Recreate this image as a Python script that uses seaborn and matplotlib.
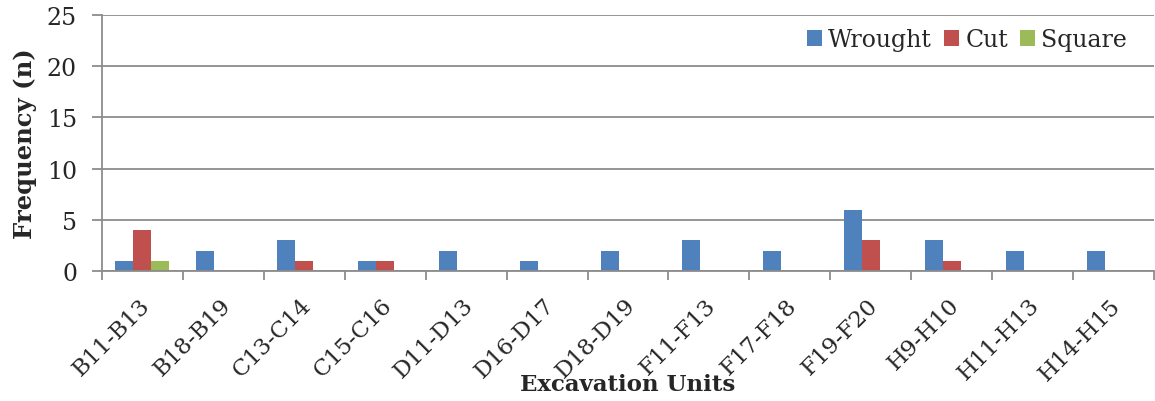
import matplotlib
matplotlib.use("Agg")
import matplotlib.pyplot as plt
import seaborn as sns
import pandas as pd
import numpy as np

# Nail counts by type per excavation unit
units = ["B11-B13", "B18-B19", "C13-C14", "C15-C16", "D11-D13", "D16-D17",
         "D18-D19", "F11-F13", "F17-F18", "F19-F20", "H9-H10", "H11-H13", "H14-H15"]
wrought = [1, 2, 3, 1, 2, 1, 2, 3, 2, 6, 3, 2, 2]
cut =     [4, 0, 1, 1, 0, 0, 0, 0, 0, 3, 1, 0, 0]
square =  [1, 0, 0, 0, 0, 0, 0, 0, 0, 0, 0, 0, 0]
types = ["Wrought", "Cut", "Square"]
colors = ["#4F81BD", "#C0504D", "#9BBB59"]
y_ticks = [0, 5, 10, 15, 20, 25]

df = pd.DataFrame({
    "Unit": units * 3,
    "Type": [t for t in types for _ in units],
    "Count": wrought + cut + square,
})
# zero counts are simply not drawn
df["Bar"] = df["Count"].where(df["Count"] > 0, np.nan)

sns.set_style("white")
plt.rcParams["font.family"] = ["DejaVu Serif", "DejaVu Sans"]

grid_col = "#8C8C8C"
fig = plt.figure(figsize=(11.55, 4.02), dpi=100)
ax = fig.add_axes([102 / 1155, 1 - 272 / 402, (1154 - 102) / 1155, (272 - 16) / 402])

sns.barplot(data=df, x="Unit", y="Bar", hue="Type", order=units, hue_order=types,
            palette=colors, width=0.667, saturation=1, ax=ax, linewidth=0,
            errorbar=None)

ax.set_ylim(0, 25)
ax.set_xlim(-0.5, len(units) - 0.5)
ax.set_yticks(y_ticks)
ax.yaxis.grid(True, color=grid_col, linewidth=1.3)
ax.set_axisbelow(True)
for s in ["top", "right"]:
    ax.spines[s].set_visible(False)
for s in ["left", "bottom"]:
    ax.spines[s].set_color(grid_col)
    ax.spines[s].set_linewidth(1.3)

ax.tick_params(axis="y", direction="out", length=7, width=1.3, color=grid_col,
               labelsize=17, pad=11, left=True)
ax.set_xticks(range(len(units)))
ax.set_xticklabels(units, rotation=45, ha="right", va="center", rotation_mode="anchor")
ax.tick_params(axis="x", which="major", length=0, labelsize=16.5, pad=22)
ax.set_xticks(np.arange(-0.5, len(units), 1.0), minor=True)
ax.tick_params(axis="x", which="minor", direction="out", length=6.5, width=1.3,
               color=grid_col, bottom=True)
for lbl in ax.get_xticklabels():
    lbl.set_transform(lbl.get_transform() + matplotlib.transforms.ScaledTranslation(0.04, 0, fig.dpi_scale_trans))

ax.set_xlabel("Excavation Units", fontsize=16.5, fontweight="bold", labelpad=-8)
ax.set_ylabel("Frequency (n)", fontsize=17.5, fontweight="bold", labelpad=7)

handles, labels = ax.get_legend_handles_labels()
ax.legend(handles, labels, loc="upper right", bbox_to_anchor=(0.99, 1.012), ncol=3,
          frameon=True, facecolor="white", edgecolor="none", framealpha=1,
          fontsize=17, handlelength=0.65, handleheight=0.65, handletextpad=0.25,
          columnspacing=0.5, borderpad=0.2)

fig.savefig("out.png", dpi=100)
